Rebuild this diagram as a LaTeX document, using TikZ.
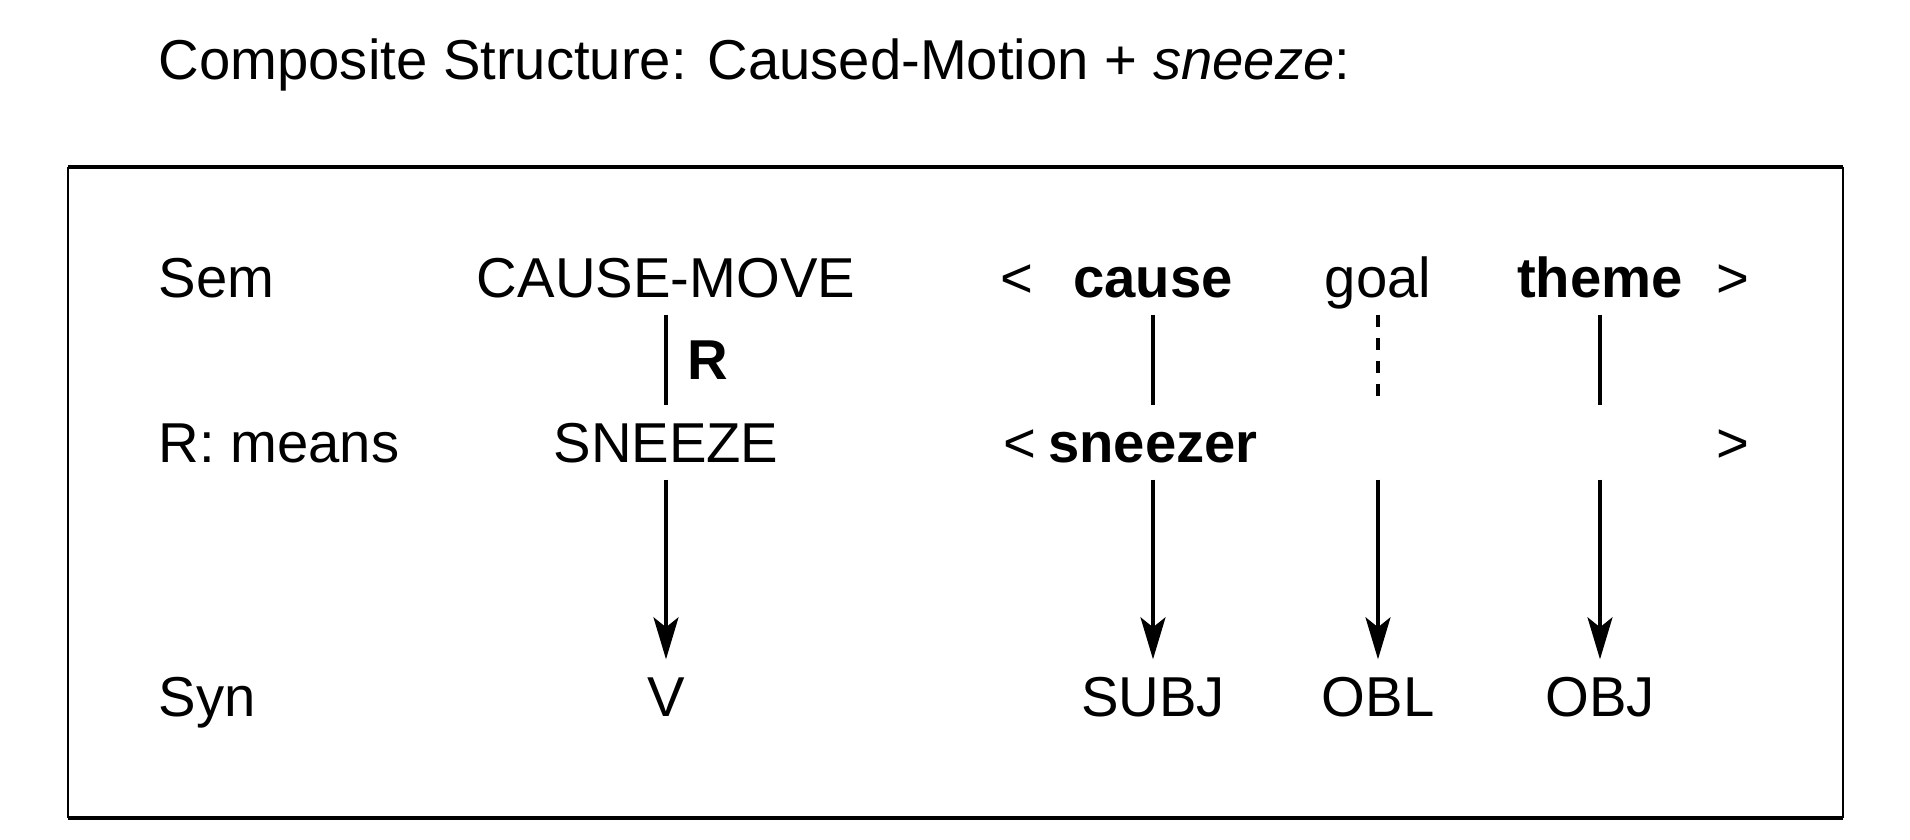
\documentclass[tikz,border=0pt]{standalone}
\usepackage{fontspec}
\setmainfont{Liberation Sans}
\usetikzlibrary{arrows.meta,calc}
\tikzset{
  lbl/.style={anchor=base west, inner sep=0pt, font=\fontsize{16}{19}\selectfont},
  cell/.style={anchor=base, inner xsep=2pt, inner ysep=0.16cm, text height=0.41cm, text depth=0cm, font=\fontsize{16}{19}\selectfont},
  role/.style={cell, font=\fontsize{16}{19}\selectfont\bfseries},
  link/.style={line width=1pt},
  dotlink/.style={line width=1pt, dash pattern=on 1.2mm off 1.1mm},
  arrow/.style={-{Stealth[length=4.2mm, width=2.5mm, inset=1mm]}, line width=1pt},
  frame/.style={line width=1.4pt},
  side/.style={line width=0.6pt}
}
\begin{document}
\begin{tikzpicture}
  \useasboundingbox (0,0) rectangle (19.1,8.4);
  \node[lbl] (title) at (1.58,7.60) {Composite Structure: Caused-Motion + \textit{sneeze}:};
  % frame: heavy top and bottom, light sides
  \coordinate (bl) at (0.68,0.22);
  \coordinate (tr) at (18.43,6.73);
  \draw[side] (bl) -- (bl |- tr) (tr) -- (tr |- bl);
  \draw[frame] (bl |- tr) -- (tr) (bl) -- (tr |- bl);
  % row labels
  \node[lbl] (sem) at (1.58,5.42) {Sem};
  \node[lbl] (means) at (1.58,3.77) {R: means};
  \node[lbl] (syn) at (1.58,1.23) {Syn};
  % Sem row
  \node[cell] (cmove) at (6.66,5.42) {CAUSE-MOVE};
  \node[cell] (lta) at (10.17,5.42) {<};
  \node[role] (cause) at (11.53,5.42) {cause};
  \node[cell] (goal) at (13.78,5.42) {goal};
  \node[role] (theme) at (16.0,5.42) {theme};
  \node[cell] (gta) at (17.33,5.42) {>};
  % R row
  \node[cell] (sneeze) at (6.66,3.77) {SNEEZE};
  \node[cell] (ltb) at (10.2,3.77) {<};
  \node[role] (sneezer) at (11.53,3.77) {sneezer};
  \node[cell] (gtb) at (17.33,3.77) {>};
  % Syn row
  \node[cell] (v) at (6.66,1.23) {V};
  \node[cell] (subj) at (11.53,1.23) {SUBJ};
  \node[cell] (obl) at (13.78,1.23) {OBL};
  \node[cell] (obj) at (16.0,1.23) {OBJ};
  % links
  \draw[link] (cmove.south) -- node[midway, right, inner sep=0pt, xshift=0.2cm, font=\fontsize{16}{19}\selectfont\bfseries] (rlab) {R} (sneeze.north);
  \draw[link] (cause.south) -- (sneezer.north);
  \draw[dotlink] (goal.south) -- (goal.south |- sneezer.north);
  \draw[link] (theme.south) -- (theme.south |- sneezer.north);
  \draw[arrow] (sneeze.south) -- (v.north);
  \draw[arrow] (sneezer.south) -- (subj.north);
  \draw[arrow] (goal.south |- sneezer.south) -- (obl.north);
  \draw[arrow] (theme.south |- sneezer.south) -- (obj.north);
\end{tikzpicture}
\end{document}
